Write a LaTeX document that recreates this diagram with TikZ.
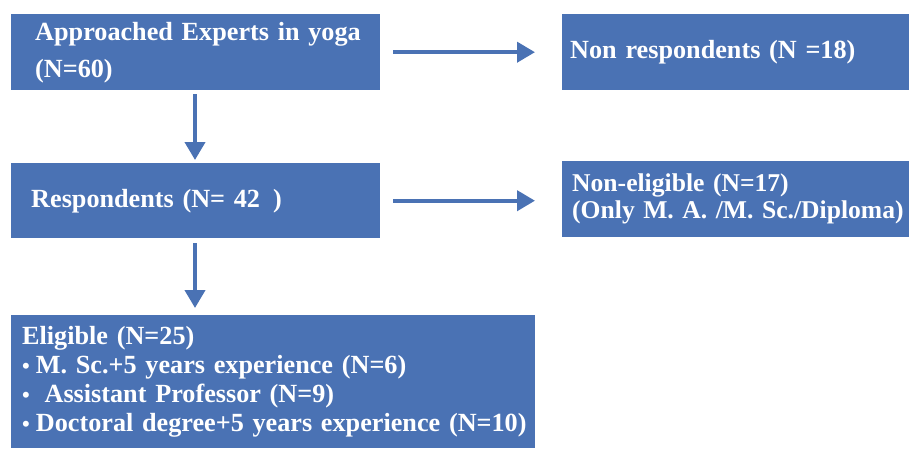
\documentclass[tikz,border=0pt]{standalone}
\usepackage{fontspec}
\setmainfont{Liberation Serif}
\usetikzlibrary{arrows.meta}
\definecolor{boxblue}{HTML}{4A72B4}
\newcommand{\boxfont}[2]{\fontsize{#1}{#2}\selectfont\bfseries\spaceskip=0.2em\relax}
\tikzset{
  box/.style={fill=boxblue, draw=none, anchor=north west, align=left,
    text=white, font=\boxfont{26.2}{29}, inner ysep=0pt},
  arr/.style={draw=boxblue, line width=4pt,
    -{Triangle[length=18pt,width=20pt]}},
}
\newcommand{\smallbullet}{{\fontsize{22}{22}\selectfont •}\hspace{6pt}}
\begin{document}
\begin{tikzpicture}[x=1pt,y=-1pt]
\useasboundingbox (0,0) rectangle (909,448);
\node[box, inner xsep=24pt, text width=321pt, minimum height=76pt,
  font=\boxfont{26.2}{37}] (b1) at (11,14)
  {\mbox{Approached Experts in yoga}\\\mbox{(N=60)}};
\node[box, inner xsep=8pt, text width=331pt, minimum height=76pt] (b2) at (562,14)
  {\mbox{Non respondents (N =18)}};
\node[box, inner xsep=20pt, text width=329pt, minimum height=75pt] (b3) at (11,163)
  {\mbox{Respondents (N= 42\hspace{13pt})}};
\node[box, inner xsep=10pt, text width=327pt, minimum height=76pt,
  font=\boxfont{25.6}{27}] (b4) at (562,161)
  {\mbox{Non-eligible (N=17)}\\\mbox{(Only M. A. /M. Sc./Diploma)}};
\node[box, inner xsep=11pt, text width=502pt, minimum height=133pt] (b5) at (11,315)
  {\mbox{Eligible (N=25)}\\
   \mbox{\smallbullet M. Sc.+5 years experience (N=6)}\\
   \mbox{\smallbullet\ Assistant Professor (N=9)}\\
   \mbox{\smallbullet Doctoral degree+5 years experience (N=10)}};
\draw[arr, shorten <=13pt, shorten >=27pt] (b1.east) -- (b1.east -| b2.west);
\draw[arr, shorten <=13pt, shorten >=27pt] (b3.east) -- (b3.east -| b4.west);
\coordinate (v1) at (195,90);
\draw[arr, shorten <=4pt, shorten >=3pt] (v1) -- (v1 |- b3.north);
\coordinate (v2) at (195,238);
\draw[arr, shorten <=5pt, shorten >=7pt] (v2) -- (v2 |- b5.north);
\end{tikzpicture}
\end{document}
